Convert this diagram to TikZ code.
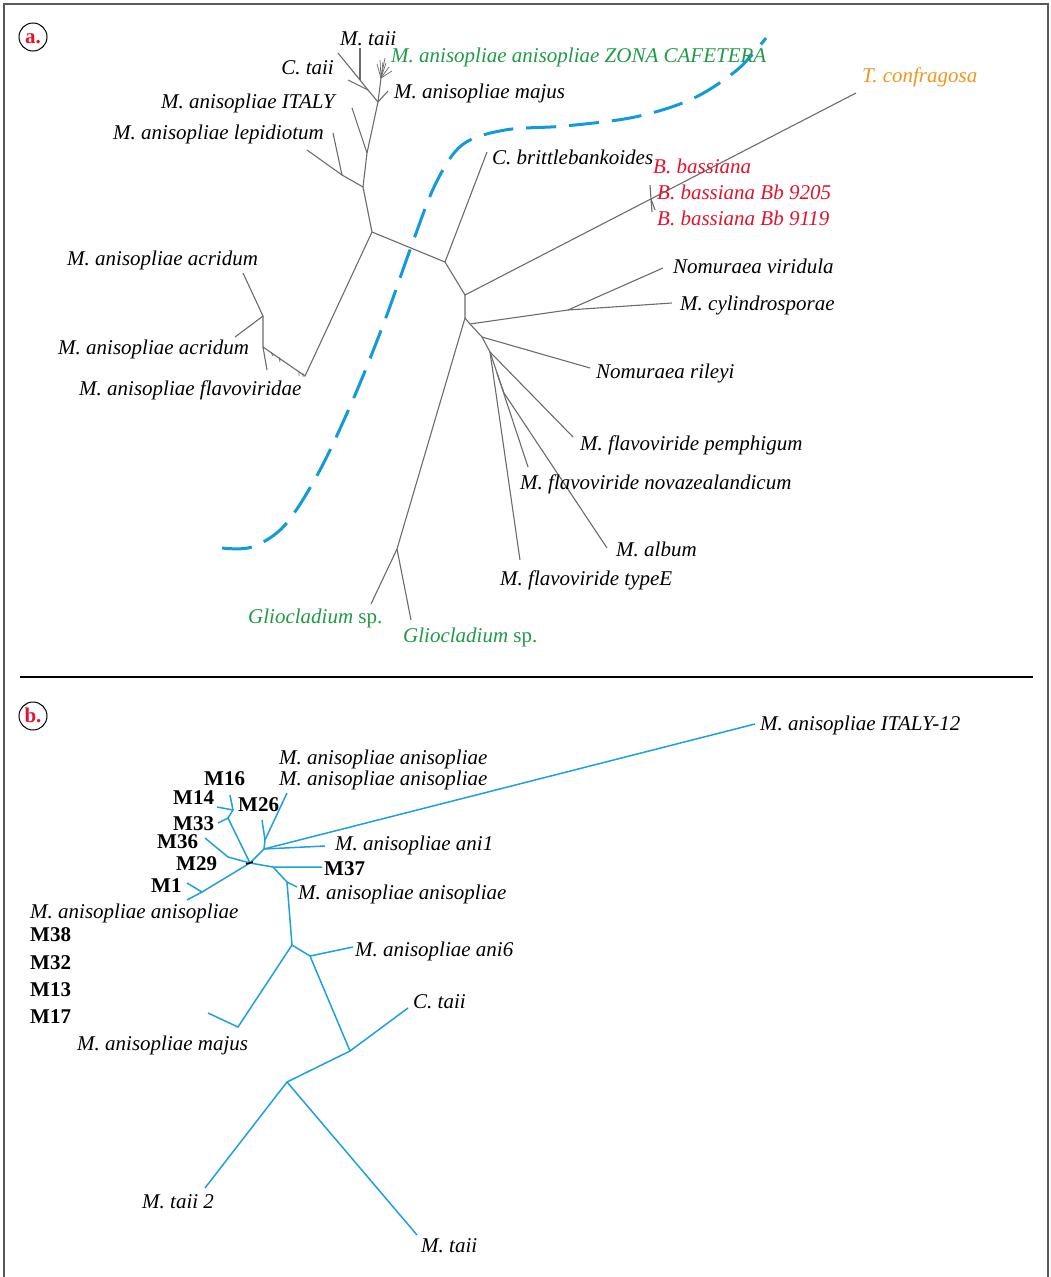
\documentclass[tikz,border=0pt]{standalone}
\usepackage{fontspec}
\setmainfont{Liberation Serif}
\usepackage{tikz}
\definecolor{treegray}{HTML}{6B6B6B}
\definecolor{treeblue}{HTML}{1EA0DC}
\definecolor{dashblue}{HTML}{129BD8}
\definecolor{fgreen}{HTML}{1F9A48}
\definecolor{fred}{HTML}{E3132D}
\definecolor{forange}{HTML}{F0961E}
\begin{document}
\begin{tikzpicture}[x=1pt,y=-1pt,
  every node/.style={inner sep=0pt, text height=14pt, text depth=0pt, font=\fontsize{21}{24}\selectfont\itshape},
  lab/.style={anchor=west},
  labr/.style={anchor=east},
  bold/.style={anchor=west, font=\fontsize{21}{24}\selectfont\bfseries},
  green/.style={text=fgreen},
  red/.style={text=fred},
  orange/.style={text=forange},
  panel/.style={draw, circle, minimum size=28pt, line width=1pt, text height=12pt, text depth=0pt, text=fred, font=\fontsize{21}{24}\selectfont\bfseries},
  branch/.style={draw=treegray, line width=1.1pt},
  bbranch/.style={draw=treeblue, line width=1.5pt},
  dashcurve/.style={draw=dashblue, line width=3pt, dash pattern=on 30pt off 13pt}
]
\useasboundingbox (0,0) rectangle (1051,1277);
\draw[draw=black!65, line width=2pt] (4,1290) -- (4,4) -- (1048,4) -- (1048,1290);
\draw[line width=1.5pt] (20,677) -- (1033,677);
\node[panel] (pa) at (33,37) {a.};
\node[panel] (pb) at (33,716) {b.};
% tree a
\foreach \n/\p in {n1/{372,232}, n2/{445,262}, n3/{465,295}, n4/{465,318}, n5/{470,324},
  n6/{482,337}, n7/{490,352}, n8/{497,373}, n9/{504,393}, cy/{568,310}, bb/{651,199},
  gl/{397,549}, u1/{363,187}, u2/{367,153}, u3/{378,102}, lp/{342,175}, ct/{368,90},
  mt/{360,80}, mj/{381,78}, f1/{305,376}, f2/{263,347}, f3/{263,316}}
  \coordinate (\n) at (\p);
\foreach \n/\p in {tbr/{487,152}, ttc/{856,93}, tcy/{672,303}, tvi/{663,268}, tri/{590,368},
  tpe/{573,437}, tty/{520,560}, tno/{528,467}, tal/{607,548}, tg1/{371,604}, tg2/{411,620},
  tle/{307,150}, tle2/{333,133}, tit/{352,108}, tct/{348,80}, tmt/{360,48}, tmt2/{338,53},
  tmj/{388,91}, tac/{243,273}, tac2/{235,337}, tfl/{267,370}}
  \coordinate (\n) at (\p);
\draw[branch] (tbr) -- (n2) -- (n1) -- (u1) -- (u2) -- (u3) -- (ct) -- (mt) -- (tmt2);
\draw[branch] (n2) -- (n3) -- (ttc);
\draw[branch] (n3) -- (n4) -- (n5) -- (n6) -- (n7) -- (n8) -- (n9) -- (tal);
\draw[branch] (n4) -- (gl) -- (tg1);
\draw[branch] (gl) -- (tg2);
\draw[branch] (n5) -- (cy) -- (tcy);
\draw[branch] (cy) -- (tvi);
\draw[branch] (n6) -- (tri);
\draw[branch] (n7) -- (tpe);
\draw[branch] (n7) -- (tty);
\draw[branch] (n8) -- (tno);
\draw[branch] (650,185) -- (bb) -- (652,212);
\draw[branch] (bb) -- (655,210);
\draw[branch] (u1) -- (lp) -- (tle);
\draw[branch] (lp) -- (tle2);
\draw[branch] (u2) -- (tit);
\draw[branch] (ct) -- (tct);
\draw[branch] (mt) -- (tmt);
\draw[branch] (u3) -- (tmj);
\draw[branch] (u3) -- (mj);
\foreach \p in {{377,64},{380,60},{383,62},{386,63},{389,67},{392,71},{385,58}}
  \draw[branch, line width=0.7pt] (mj) -- (\p);
\draw[branch] (n1) -- (f1) -- (f2) -- (f3) -- (tac);
\draw[branch] (f3) -- (tac2);
\draw[branch] (f2) -- (tfl);
\draw[branch, line width=0.7pt] (279,357) -- (280,362) (299,371) -- (299,376) (303,373) -- (303,377) (271,352) -- (273,356);
\draw[dashcurve] plot[smooth, tension=0.55] coordinates {(222,548) (252,547) (285,525) (320,470)
  (355,395) (385,320) (410,250) (435,185) (462,145) (505,130) (565,126) (635,117) (692,99) (737,70) (766,38)};
\node[lab] (lmt) at (340,38) {M. taii};
\node[lab, green] (lzc) at (391,55) {M. anisopliae anisopliae ZONA CAFETERA};
\node[labr] (lct) at (334,67) {C. taii};
\node[lab] (lmj) at (394,91) {M. anisopliae majus};
\node[labr] (lit) at (335,101) {M. anisopliae ITALY};
\node[labr] (lle) at (324,132) {M. anisopliae lepidiotum};
\node[lab] (lbr) at (492,157) {C. brittlebankoides};
\node[lab, red] (lb1) at (653,166) {B. bassiana};
\node[lab, red] (lb2) at (657,192) {B. bassiana Bb 9205};
\node[lab, red] (lb3) at (657,218) {B. bassiana Bb 9119};
\node[lab, orange] (ltc) at (862,75) {T. confragosa};
\node[lab] (lac1) at (67,258) {M. anisopliae acridum};
\node[lab] (lvi) at (673,266) {Nomuraea viridula};
\node[lab] (lcy) at (680,303) {M. cylindrosporae};
\node[lab] (lac2) at (58,347) {M. anisopliae acridum};
\node[lab] (lri) at (596,371) {Nomuraea rileyi};
\node[lab] (lfl) at (79,388) {M. anisopliae flavoviridae};
\node[lab] (lpe) at (580,443) {M. flavoviride pemphigum};
\node[lab] (lno) at (520,482) {M. flavoviride novazealandicum};
\node[lab] (lal) at (616,549) {M. album};
\node[lab] (lty) at (500,578) {M. flavoviride typeE};
\node[lab, green] (lg1) at (248,616) {Gliocladium \upshape sp.};
\node[lab, green] (lg2) at (403,635) {Gliocladium \upshape sp.};
% tree b
\foreach \n/\p in {c0/{250,863}, m1/{202,892}, m36/{228,857}, m33/{228,818}, m14/{233,810},
  p/{264,849}, q/{265,840}, r2/{273,867}, r3/{287,882}, r4/{292,945}, mjn/{238,1027},
  a6/{310,956}, ctn/{350,1051}, mtn/{287,1082}}
  \coordinate (\n) at (\p);
\foreach \n/\p in {sm1/{187,883}, saa/{187,900}, sm36/{205,838}, sm33/{218,823}, sm14/{217,807},
  sm16/{230,795}, sm26/{262,820}, saa2/{287,793}, sani1/{325,846}, sit/{755,724},
  sm37/{322,867}, saa3/{297,887}, smj/{208,1013}, sa6/{353,947}, sct/{408,1008},
  smt2/{205,1188}, smt/{417,1235}}
  \coordinate (\n) at (\p);
\draw[bbranch] (saa) -- (m1) -- (c0) -- (m36) -- (sm36);
\draw[bbranch] (m1) -- (sm1);
\draw[bbranch] (c0) -- (m33) -- (sm33);
\draw[bbranch] (m33) -- (m14) -- (sm14);
\draw[bbranch] (m14) -- (sm16);
\draw[bbranch] (c0) -- (p) -- (sit);
\draw[bbranch] (p) -- (sani1);
\draw[bbranch] (p) -- (q) -- (sm26);
\draw[bbranch] (q) -- (saa2);
\draw[bbranch] (c0) -- (r2) -- (sm37);
\draw[bbranch] (r2) -- (r3) -- (saa3);
\draw[bbranch] (r3) -- (r4) -- (mjn) -- (smj);
\draw[bbranch] (r4) -- (a6) -- (sa6);
\draw[bbranch] (a6) -- (ctn) -- (sct);
\draw[bbranch] (ctn) -- (mtn) -- (smt2);
\draw[bbranch] (mtn) -- (smt);
\draw[line width=1.5pt] (246,864) -- (253,862);
\node[lab] (lit12) at (760,723) {M. anisopliae ITALY-12};
\node[lab] (lb1) at (279,757) {M. anisopliae anisopliae};
\node[lab] (lb2) at (279,778) {M. anisopliae anisopliae};
\node[bold] (l16) at (204,778) {M16};
\node[bold] (l14) at (173,797) {M14};
\node[bold] (l26) at (238,804) {M26};
\node[bold] (l33) at (173,823) {M33};
\node[lab] (lani1) at (335,843) {M. anisopliae ani1};
\node[bold] (l36) at (157,841) {M36};
\node[bold] (l29) at (176,863) {M29};
\node[bold] (l37) at (324,868) {M37};
\node[bold] (l1) at (151,885) {M1};
\node[lab] (lb3) at (298,892) {M. anisopliae anisopliae};
\node[lab] (lb4) at (30,911) {M. anisopliae anisopliae};
\node[bold] (l38) at (30,934) {M38};
\node[bold] (l32) at (30,962) {M32};
\node[bold] (l13) at (30,989) {M13};
\node[bold] (l17) at (30,1016) {M17};
\node[lab] (lani6) at (355,949) {M. anisopliae ani6};
\node[lab] (lctb) at (413,1001) {C. taii};
\node[lab] (lmjb) at (77,1043) {M. anisopliae majus};
\node[lab] (lmt2) at (142,1201) {M. taii 2};
\node[lab] (lmtb) at (421,1245) {M. taii};
\end{tikzpicture}
\end{document}
